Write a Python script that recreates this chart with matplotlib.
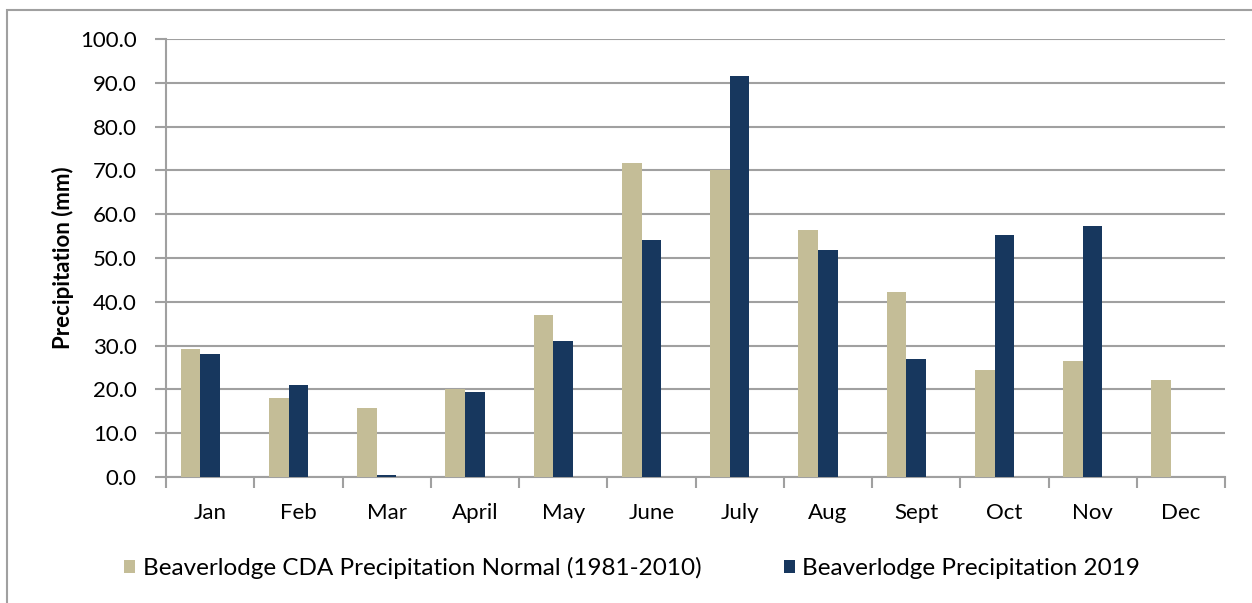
import matplotlib.pyplot as plt
import numpy as np
from matplotlib.patches import Rectangle

months = ['Jan', 'Feb', 'Mar', 'April', 'May', 'June', 'July', 'Aug', 'Sept', 'Oct', 'Nov', 'Dec']
normal = [29.3, 18.0, 15.8, 20.0, 36.9, 71.7, 70.0, 56.5, 42.2, 24.4, 26.5, 22.2]
precip_2019 = [28.1, 21.0, 0.5, 19.5, 31.0, 54.2, 91.6, 51.9, 26.9, 55.2, 57.3, np.nan]

c_normal = '#C4BD97'
c_2019 = '#17375E'
grid_c = '#A0A0A0'

plt.rcParams['font.family'] = ['Lato', 'DejaVu Sans']

fig = plt.figure(figsize=(12.52, 6.03), dpi=100)
ax = fig.add_axes([166 / 1252, 1 - 477 / 603, (1225 - 166) / 1252, (477 - 39) / 603])

x = np.arange(len(months))
w = 0.222
# excel layout: 3 slots per category, third one empty
ax.bar(x - w, normal, width=w, color=c_normal, zorder=3,
       label='Beaverlodge CDA Precipitation Normal (1981-2010)')
ax.bar(x, precip_2019, width=w, color=c_2019, zorder=3,
       label='Beaverlodge Precipitation 2019')

ax.set_xlim(-0.5, len(months) - 0.5)
ax.set_ylim(0, 100)
ax.set_yticks(np.arange(0, 101, 10))
ax.set_yticklabels([f'{v:.1f}' for v in np.arange(0, 101, 10)], fontsize=16)
ax.set_xticks(x)
ax.set_xticklabels(months, fontsize=16)
ax.set_xticks(np.arange(-0.5, len(months), 1), minor=True)
ax.tick_params(axis='x', which='major', length=0, pad=19)
ax.tick_params(axis='x', which='minor', length=8, color=grid_c, width=1.5)
ax.tick_params(axis='y', length=8, color=grid_c, width=1.5, pad=13)

ax.grid(axis='y', color=grid_c, linewidth=1.5, zorder=0)
for s in ['top', 'right']:
    ax.spines[s].set_visible(False)
for s in ['left', 'bottom']:
    ax.spines[s].set_color(grid_c)
    ax.spines[s].set_linewidth(1.5)

ax.set_ylabel('Precipitation (mm)', fontsize=16, fontweight='bold')
ax.yaxis.set_label_coords(-0.087, 0.5)

fig.legend(loc='center', bbox_to_anchor=(0.505, 1 - 568 / 603), ncol=2, frameon=False,
           fontsize=17.5, handlelength=0.45, handleheight=0.45, handletextpad=0.3, columnspacing=3.4)

fig.patches.append(Rectangle((7 / 1252, -0.1), 1.2, 1.1 - 10 / 603, transform=fig.transFigure,
                             fill=False, edgecolor='#A0A0A0', linewidth=1.5))

fig.savefig('out.png', dpi=100)
